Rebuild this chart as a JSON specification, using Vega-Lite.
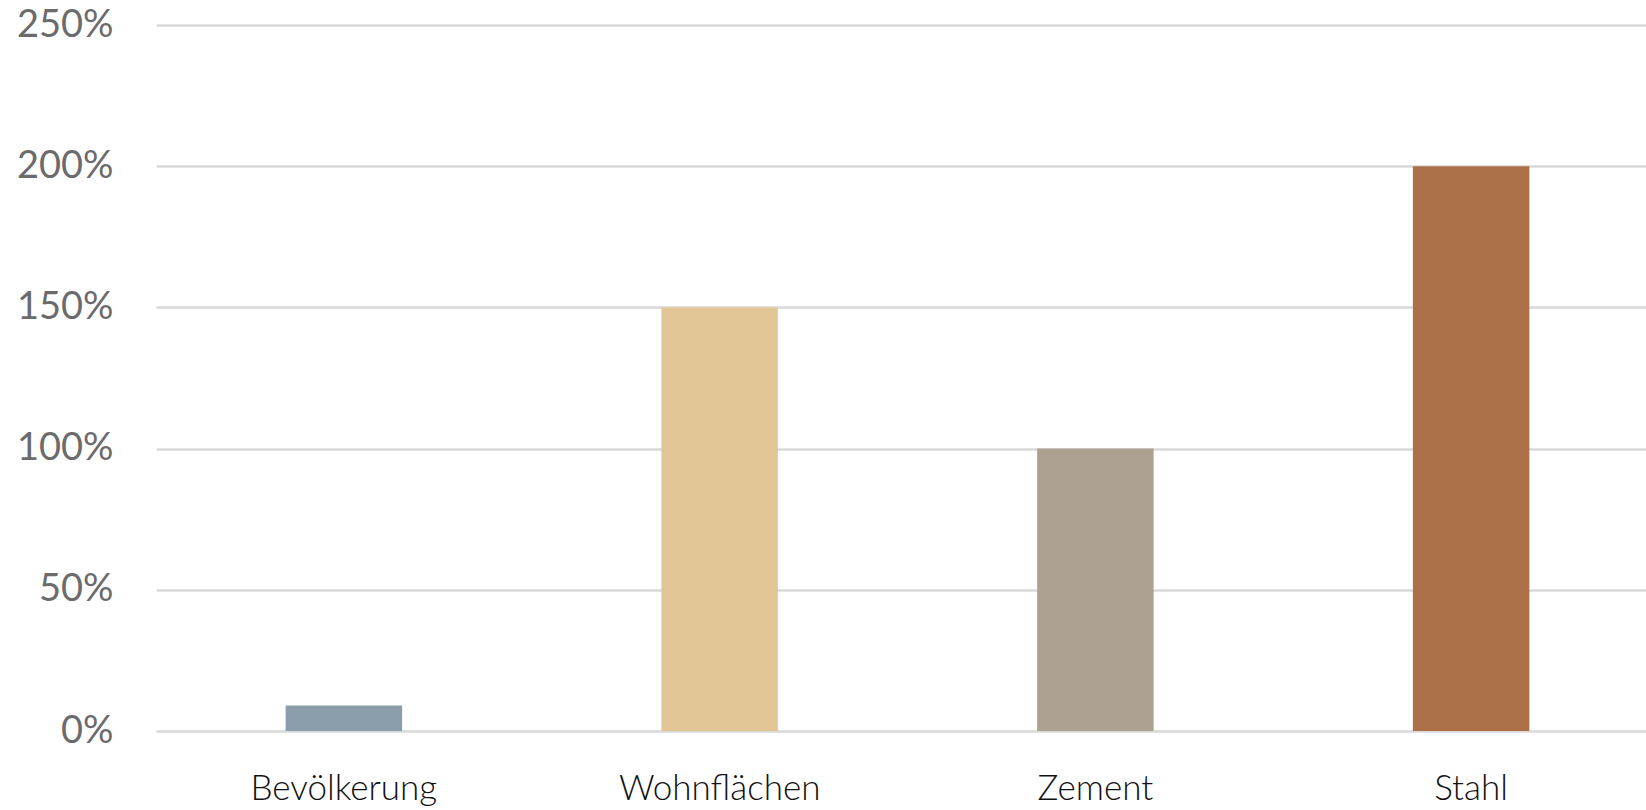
{
  "$schema": "https://vega.github.io/schema/vega-lite/v6.json",
  "autosize": {"type": "none"},
  "padding": {"left": 156, "top": 25, "right": 0, "bottom": 79},
  "width": 1503,
  "height": 706,
  "background": "#ffffff",
  "data": {"values": [
    {"Kategorie": "Bevölkerung", "Wert": 0.09},
    {"Kategorie": "Wohnflächen", "Wert": 1.5},
    {"Kategorie": "Zement", "Wert": 1.0},
    {"Kategorie": "Stahl", "Wert": 2.0}
  ]},
  "config": {"view": {"stroke": null}},
  "mark": {"type": "bar"},
  "encoding": {
    "x": {
      "field": "Kategorie", "type": "nominal", "sort": null,
      "scale": {"paddingInner": 0.69, "paddingOuter": 0.345},
      "axis": {"title": null, "labelAngle": 0, "domain": false, "ticks": false,
               "labelFont": "Lato", "labelFontSize": 35, "labelColor": "#111111",
               "labelPadding": 40, "labelFontWeight": 300, "labelLimit": 0}
    },
    "y": {
      "field": "Wert", "type": "quantitative",
      "scale": {"domain": [0, 2.5], "nice": false},
      "axis": {"title": null, "format": ".0%", "values": [0, 0.5, 1, 1.5, 2, 2.5],
               "domain": false, "ticks": false, "labelPadding": 43,
               "labelFont": "Lato", "labelFontSize": 38, "labelColor": "#6b6b6b",
               "gridColor": "#d9d9d9", "gridWidth": 2.5}
    },
    "color": {
      "field": "Kategorie", "type": "nominal", "legend": null,
      "scale": {"domain": ["Bevölkerung", "Wohnflächen", "Zement", "Stahl"],
                "range": ["#8a9fab", "#e2c594", "#ada291", "#ad714a"]}
    }
  }
}
